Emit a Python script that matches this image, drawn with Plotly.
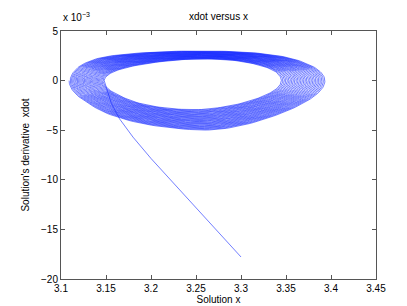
import numpy as np
import plotly.graph_objects as go

# Approach (transient) segment: x, xdot (x 1e-3)
approach_x = [3.300, 3.275, 3.250, 3.225, 3.200, 3.180, 3.165, 3.156, 3.151, 3.148]
approach_y = [-17.78, -15.30, -12.84, -10.35, -7.85, -5.70, -3.85, -2.30, -1.00, 0.0]

# Innermost loop of the spiral (clockwise from left tip), x and xdot (x 1e-3)
inner_x = [3.148, 3.152, 3.163, 3.185, 3.220, 3.256, 3.290, 3.318, 3.335, 3.342,
           3.344, 3.341, 3.332, 3.315, 3.290, 3.256, 3.220, 3.188, 3.165, 3.152]
inner_y = [0.0, 0.55, 1.05, 1.55, 2.0, 2.18, 2.05, 1.6, 1.05, 0.5,
           0.0, -0.6, -1.2, -1.85, -2.45, -2.86, -2.75, -2.25, -1.45, -0.7]

# Outermost loop of the spiral
outer_x = [3.109, 3.113, 3.125, 3.150, 3.200, 3.256, 3.310, 3.352, 3.378, 3.390,
           3.394, 3.390, 3.376, 3.348, 3.305, 3.260, 3.200, 3.155, 3.127, 3.113]
outer_y = [0.0, 0.9, 1.75, 2.45, 2.88, 3.0, 2.85, 2.35, 1.55, 0.8,
           0.0, -0.9, -1.95, -3.2, -4.45, -5.0, -4.5, -3.45, -2.1, -1.0]

n_loops = 30

x_ticks = [3.1, 3.15, 3.2, 3.25, 3.3, 3.35, 3.4, 3.45]
y_ticks = [-20, -15, -10, -5, 0, 5]


def closed_catmull(px, py, sub=10):
    """Smooth closed curve through the given points (periodic Catmull-Rom)."""
    n = len(px)
    out_x, out_y = [], []
    for i in range(n):
        p0 = np.array([px[(i - 1) % n], py[(i - 1) % n]])
        p1 = np.array([px[i], py[i]])
        p2 = np.array([px[(i + 1) % n], py[(i + 1) % n]])
        p3 = np.array([px[(i + 2) % n], py[(i + 2) % n]])
        for s in range(sub):
            t = s / sub
            t2, t3 = t * t, t * t * t
            pt = 0.5 * ((2 * p1) + (-p0 + p2) * t + (2 * p0 - 5 * p1 + 4 * p2 - p3) * t2
                        + (-p0 + 3 * p1 - 3 * p2 + p3) * t3)
            out_x.append(pt[0]); out_y.append(pt[1])
    return np.array(out_x), np.array(out_y)


# scale y so curve smoothing is done in comparable screen units
ys_scale = 0.0363
icx, icy = closed_catmull(inner_x, [v * ys_scale for v in inner_y])
ocx, ocy = closed_catmull(outer_x, [v * ys_scale for v in outer_y])
icy, ocy = icy / ys_scale, ocy / ys_scale
m = len(icx)

xs, ys = list(approach_x), list(approach_y)
for k in range(n_loops):
    for j in range(m):
        t = (k + j / m) / n_loops
        xs.append(icx[j] + (ocx[j] - icx[j]) * t)
        ys.append(icy[j] + (ocy[j] - icy[j]) * t)
xs.append(ocx[0]); ys.append(ocy[0])

fig = go.Figure()
fig.add_trace(go.Scatter(x=xs, y=ys, mode="lines",
                         line=dict(color="rgb(20,40,255)", width=0.6),
                         hoverinfo="skip", showlegend=False))

font = dict(family="Liberation Sans, Arial, sans-serif", size=10, color="black")
axis_common = dict(showgrid=False, zeroline=False, showline=True, linecolor="#555555",
                   linewidth=1, ticks="inside", ticklen=4, tickcolor="#555555",
                   mirror="ticks", tickfont=font)
fig.update_xaxes(range=[3.1, 3.45], tickvals=x_ticks,
                 ticktext=[f"{v:g}" for v in x_ticks],
                 title=dict(text="Solution x", font=font, standoff=0), **axis_common)
fig.update_yaxes(range=[-20, 5], tickvals=y_ticks,
                 title=dict(text="Solution's derivative  xdot", font=font, standoff=9),
                 **axis_common)
fig.update_layout(
    width=407, height=306,
    margin=dict(l=53, r=39, t=23, b=35),
    paper_bgcolor="white", plot_bgcolor="white",
    font=font,
    annotations=[
        dict(text="x 10<sup>−3</sup>", xref="paper", yref="paper",
             x=0.0, y=1.0, xanchor="left", yanchor="bottom",
             showarrow=False, font=font, yshift=6),
        dict(text="xdot versus x", xref="paper", yref="paper",
             x=0.5, y=1.0, xanchor="center", yanchor="bottom",
             showarrow=False, font=font, yshift=7),
    ],
)
fig.write_html("out.html")
